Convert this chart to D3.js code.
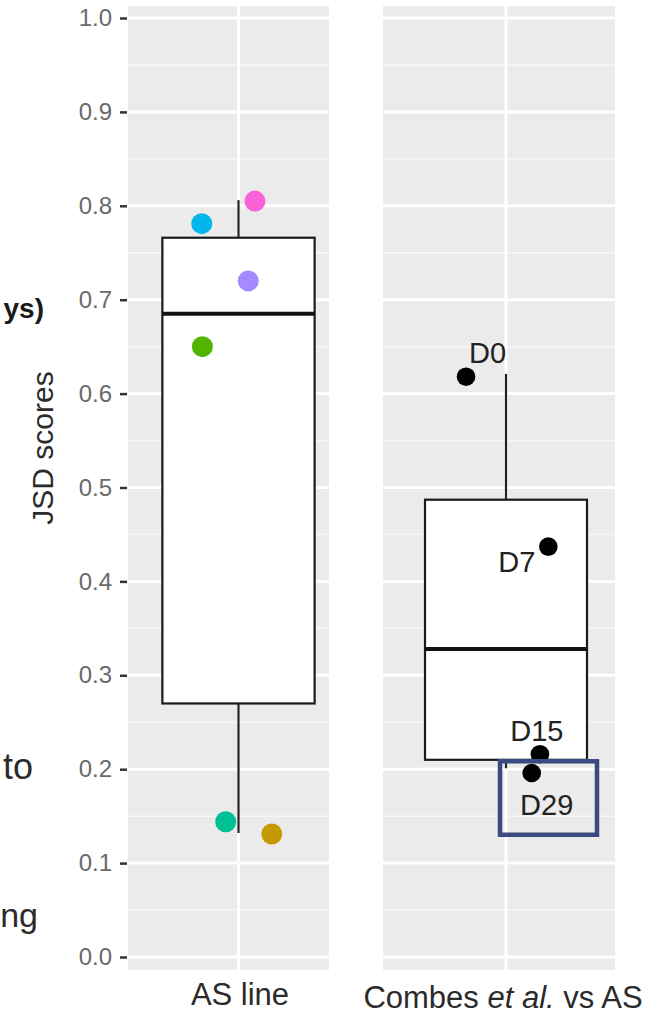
<!DOCTYPE html>
<html>
<head>
<meta charset="utf-8">
<script src="https://cdn.jsdelivr.net/npm/d3@7"></script>
<style>
  html, body { margin: 0; padding: 0; background: #ffffff; }
  svg { display: block; font-family: "Liberation Sans", Arial, sans-serif; }
</style>
</head>
<body>
<svg id="chart" width="667" height="1015"></svg>
<script>
// ---------------- data ----------------
const categories = ["AS line", "Combes et al. vs AS"];
const yTicks = [0, 0.1, 0.2, 0.3, 0.4, 0.5, 0.6, 0.7, 0.8, 0.9, 1.0];
const yMinorTicks = [0.05, 0.15, 0.25, 0.35, 0.45, 0.55, 0.65, 0.75, 0.85, 0.95];

const asLineValues = [0.805, 0.781, 0.720, 0.650, 0.144, 0.131];
const asLineJitter = [0.081, -0.181, 0.048, -0.178, -0.063, 0.164];
const asLineColors = ["#FB61D7", "#00B6EB", "#A58AFF", "#53B400", "#00C094", "#C49A00"];

const combesLabels = ["D0", "D7", "D15", "D29"];
const combesValues = [0.618, 0.437, 0.216, 0.196];
const combesJitter = [-0.185, 0.196, 0.157, 0.119];

const boxLower  = [0.132, 0.201];
const boxQ1     = [0.270, 0.210];
const boxMedian = [0.685, 0.328];
const boxQ3     = [0.766, 0.487];
const boxUpper  = [0.806, 0.621];

// ---------------- layout ----------------
const svg = d3.select("#chart");
const panelTop = 6, panelBottom = 970;
const y = d3.scaleLinear().domain([0, 1]).range([957, 18]);

const panels = [
  { x0: 128, x1: 329, center: 238.5, unit: 203, r: 10.5 },
  { x0: 383, x1: 615, center: 506, unit: 216, r: 9.3 }
];
panels.forEach(p => {
  p.x = d3.scaleLinear().domain([1 - (p.center - p.x0) / p.unit, 1 + (p.x1 - p.center) / p.unit])
                        .range([p.x0, p.x1]);
});

const boxHalf = 0.375;

panels.forEach((p, i) => {
  const g = svg.append("g");
  g.append("rect").attr("x", p.x0).attr("y", panelTop)
    .attr("width", p.x1 - p.x0).attr("height", panelBottom - panelTop).attr("fill", "#EBEBEB");
  g.selectAll(".minor").data(yMinorTicks).enter().append("line")
    .attr("x1", p.x0).attr("x2", p.x1).attr("y1", d => y(d)).attr("y2", d => y(d))
    .attr("stroke", "#F7F7F7").attr("stroke-width", 1.5);
  g.selectAll(".major").data(yTicks).enter().append("line")
    .attr("x1", p.x0).attr("x2", p.x1).attr("y1", d => y(d)).attr("y2", d => y(d))
    .attr("stroke", "#FFFFFF").attr("stroke-width", 3);
  g.append("line").attr("x1", p.x(1)).attr("x2", p.x(1)).attr("y1", panelTop).attr("y2", panelBottom)
    .attr("stroke", "#FFFFFF").attr("stroke-width", 3);

  // whiskers
  g.append("line").attr("x1", p.x(1)).attr("x2", p.x(1))
    .attr("y1", y(boxUpper[i])).attr("y2", y(boxQ3[i]))
    .attr("stroke", "#222").attr("stroke-width", 2.2);
  g.append("line").attr("x1", p.x(1)).attr("x2", p.x(1))
    .attr("y1", y(boxQ1[i])).attr("y2", y(boxLower[i]))
    .attr("stroke", "#222").attr("stroke-width", 2.2);
  // box
  g.append("rect").attr("x", p.x(1 - boxHalf)).attr("y", y(boxQ3[i]))
    .attr("width", p.x(1 + boxHalf) - p.x(1 - boxHalf)).attr("height", y(boxQ1[i]) - y(boxQ3[i]))
    .attr("fill", "#FFFFFF").attr("stroke", "#1a1a1a").attr("stroke-width", 2.2);
  g.append("line").attr("x1", p.x(1 - boxHalf)).attr("x2", p.x(1 + boxHalf))
    .attr("y1", y(boxMedian[i])).attr("y2", y(boxMedian[i]))
    .attr("stroke", "#111").attr("stroke-width", 4);
});

// left panel points
const pL = panels[0];
svg.append("g").selectAll("circle").data(asLineValues).enter().append("circle")
  .attr("cx", (d, i) => pL.x(1 + asLineJitter[i]))
  .attr("cy", d => y(d))
  .attr("r", pL.r)
  .attr("fill", (d, i) => asLineColors[i]);

// right panel points + labels
const pR = panels[1];
const labelPlace = [
  { dx: 3, dy: -13.4, anchor: "start" },
  { dx: -13, dy: 25, anchor: "end" },
  { dx: -3, dy: -13.3, anchor: "middle" },
  { dx: 15, dy: 42.3, anchor: "middle" }
];
const rg = svg.append("g");
rg.selectAll("circle").data(combesValues).enter().append("circle")
  .attr("cx", (d, i) => pR.x(1 + combesJitter[i]))
  .attr("cy", d => y(d))
  .attr("r", pR.r)
  .attr("fill", "#000");
rg.selectAll("text").data(combesValues).enter().append("text")
  .attr("x", (d, i) => pR.x(1 + combesJitter[i]) + labelPlace[i].dx)
  .attr("y", (d, i) => y(d) + labelPlace[i].dy)
  .attr("text-anchor", (d, i) => labelPlace[i].anchor)
  .attr("font-size", 29).attr("fill", "#222")
  .text((d, i) => combesLabels[i]);

// highlight box around D29
const d29x = pR.x(1 + combesJitter[3]), d29y = y(combesValues[3]);
svg.append("rect").attr("x", d29x - 31.7).attr("y", d29y - 11.7)
  .attr("width", 97).attr("height", 73.5)
  .attr("fill", "none").attr("stroke", "#3C4A82").attr("stroke-width", 4.5);

// y axis
const yAxis = d3.axisLeft(y).tickValues(yTicks).tickSize(7).tickPadding(8).tickFormat(d3.format(".1f"));
const ax = svg.append("g").attr("transform", "translate(127,0)").call(yAxis);
ax.select(".domain").remove();
ax.selectAll(".tick line").attr("stroke", "#333").attr("stroke-width", 2.5);
ax.selectAll(".tick text").attr("font-size", 24).attr("fill", "#6a6a6a")
  .attr("font-family", "Liberation Sans, Arial, sans-serif");

// x labels
svg.append("text").attr("x", pL.x(1) + 1.5).attr("y", 1005).attr("text-anchor", "middle")
  .attr("font-size", 31).attr("fill", "#2b2b2b").text(categories[0]);
const xl = svg.append("text").attr("x", 503).attr("y", 1008).attr("text-anchor", "middle")
  .attr("font-size", 31).attr("fill", "#2b2b2b");
xl.append("tspan").text("Combes ");
xl.append("tspan").attr("font-style", "italic").text("et al.");
xl.append("tspan").text(" vs AS");

// y title
svg.append("text").attr("transform", "translate(53,448) rotate(-90)").attr("text-anchor", "middle")
  .attr("font-size", 30).attr("fill", "#2b2b2b").text("JSD scores");

// cropped fragments of neighbouring text
svg.append("text").attr("x", 44).attr("y", 318).attr("text-anchor", "end")
  .attr("font-size", 28).attr("font-weight", "bold").attr("fill", "#1a1a1a").text("ys)");
svg.append("text").attr("x", 33).attr("y", 779).attr("text-anchor", "end")
  .attr("font-size", 36).attr("fill", "#2b2b2b").text("to");
svg.append("text").attr("x", 38).attr("y", 927).attr("text-anchor", "end")
  .attr("font-size", 34).attr("fill", "#2b2b2b").text("ng");
</script>
</body>
</html>
